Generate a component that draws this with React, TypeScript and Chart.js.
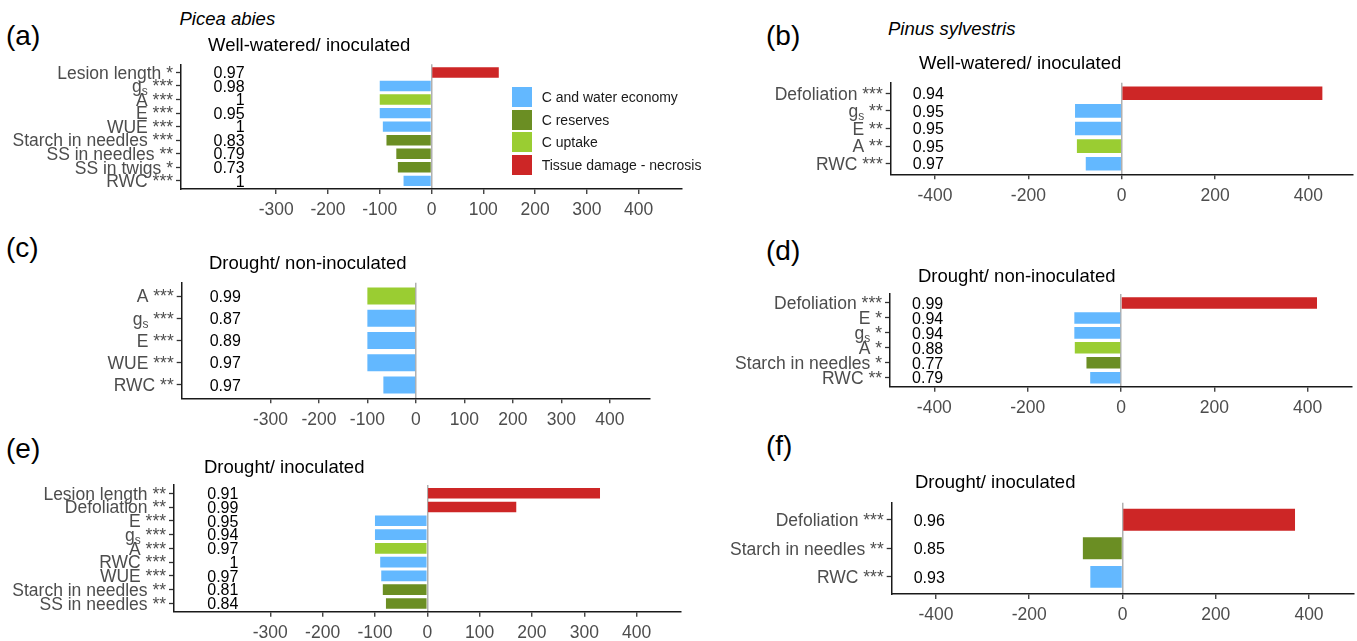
import React, { useEffect, useRef } from 'react';
import { Chart, registerables } from 'chart.js';

Chart.register(...registerables);

const FONT = '"Liberation Sans", Arial, Helvetica, sans-serif';

const COLORS: Record<string, string> = {
  water: '#63B8FF',
  reserves: '#6B8E23',
  uptake: '#9ACD32',
  damage: '#CD2626',
};

const legendKeys = ['water', 'reserves', 'uptake', 'damage'];
const legendNames = ['C and water economy', 'C reserves', 'C uptake', 'Tissue damage - necrosis'];

const leftTicks = [-300, -200, -100, 0, 100, 200, 300, 400];
const rightTicks = [-400, -200, 0, 200, 400];

// (a) Picea abies – Well-watered/ inoculated
const aLabels = ['Lesion length *', 'g_s ***', 'A ***', 'E ***', 'WUE ***', 'Starch in needles ***', 'SS in needles **', 'SS in twigs *', 'RWC ***'];
const aValues = [130, -100, -100, -100, -94, -87, -68, -65, -54];
const aR2 = ['0.97', '0.98', '1', '0.95', '1', '0.83', '0.79', '0.73', '1'];
const aGroups = ['damage', 'water', 'uptake', 'water', 'water', 'reserves', 'reserves', 'reserves', 'water'];

// (b) Pinus sylvestris – Well-watered/ inoculated
const bLabels = ['Defoliation ***', 'g_s **', 'E **', 'A **', 'RWC ***'];
const bValues = [430, -100, -100, -96, -77];
const bR2 = ['0.94', '0.95', '0.95', '0.95', '0.97'];
const bGroups = ['damage', 'water', 'water', 'uptake', 'water'];

// (c) Picea abies – Drought/ non-inoculated
const cLabels = ['A ***', 'g_s ***', 'E ***', 'WUE ***', 'RWC **'];
const cValues = [-100, -100, -100, -100, -67];
const cR2 = ['0.99', '0.87', '0.89', '0.97', '0.97'];
const cGroups = ['uptake', 'water', 'water', 'water', 'water'];

// (d) Pinus sylvestris – Drought/ non-inoculated
const dLabels = ['Defoliation ***', 'E *', 'g_s *', 'A *', 'Starch in needles *', 'RWC **'];
const dValues = [420, -100, -100, -99, -74, -66];
const dR2 = ['0.99', '0.94', '0.94', '0.88', '0.77', '0.79'];
const dGroups = ['damage', 'water', 'water', 'uptake', 'reserves', 'water'];

// (e) Picea abies – Drought/ inoculated
const eLabels = ['Lesion length **', 'Defoliation **', 'E ***', 'g_s ***', 'A ***', 'RWC ***', 'WUE ***', 'Starch in needles **', 'SS in needles **'];
const eValues = [330, 170, -100, -100, -100, -90, -88, -85, -79];
const eR2 = ['0.91', '0.99', '0.95', '0.94', '0.97', '1', '0.97', '0.81', '0.84'];
const eGroups = ['damage', 'damage', 'water', 'water', 'uptake', 'water', 'water', 'reserves', 'reserves'];

// (f) Pinus sylvestris – Drought/ inoculated
const fLabels = ['Defoliation ***', 'Starch in needles **', 'RWC ***'];
const fValues = [370, -85, -69];
const fR2 = ['0.96', '0.85', '0.93'];
const fGroups = ['damage', 'reserves', 'water'];

type Rect = { left: number; top: number; right: number; bottom: number };
type PanelCfg = {
  labels: string[];
  values: number[];
  r2: string[];
  groups: string[];
  ticks: number[];
  xMin: number;
  xMax: number;
  r2X: number;
  plot: Rect;
  canvasLeft: number;
};

const panels: PanelCfg[] = [
  { labels: aLabels, values: aValues, r2: aR2, groups: aGroups, ticks: leftTicks, xMin: -484, xMax: 484, r2X: -361, plot: { left: 181, top: 64.3, right: 682, bottom: 189 }, canvasLeft: 0 },
  { labels: bLabels, values: bValues, r2: bR2, groups: bGroups, ticks: rightTicks, xMin: -495, xMax: 495, r2X: -381, plot: { left: 890.7, top: 82.7, right: 1352.7, bottom: 174.3 }, canvasLeft: 700 },
  { labels: cLabels, values: cValues, r2: cR2, groups: cGroups, ticks: leftTicks, xMin: -483, xMax: 483, r2X: -361, plot: { left: 181.7, top: 282.7, right: 650, bottom: 398.3 }, canvasLeft: 0 },
  { labels: dLabels, values: dValues, r2: dR2, groups: dGroups, ticks: rightTicks, xMin: -495, xMax: 495, r2X: -381, plot: { left: 890, top: 294, right: 1352, bottom: 386.7 }, canvasLeft: 700 },
  { labels: eLabels, values: eValues, r2: eR2, groups: eGroups, ticks: leftTicks, xMin: -484, xMax: 484, r2X: -361, plot: { left: 174, top: 485, right: 680.6, bottom: 611.7 }, canvasLeft: 0 },
  { labels: fLabels, values: fValues, r2: fR2, groups: fGroups, ticks: rightTicks, xMin: -495, xMax: 495, r2X: -381, plot: { left: 891.7, top: 502.7, right: 1353.3, bottom: 594 }, canvasLeft: 700 },
];

const LABEL_SIZE = 17.5;
const SUB_SIZE = 12;
const R2_SIZE = 16;

function drawRowLabel(ctx: CanvasRenderingContext2D, text: string, right: number, baseline: number) {
  const main = `${LABEL_SIZE}px ${FONT}`;
  const small = `${SUB_SIZE}px ${FONT}`;
  ctx.fillStyle = '#4d4d4d';
  ctx.textBaseline = 'alphabetic';
  const m = text.match(/^(.*)_(\w)(.*)$/);
  if (!m) {
    ctx.font = main;
    ctx.textAlign = 'right';
    ctx.fillText(text, right, baseline);
    return;
  }
  ctx.textAlign = 'left';
  ctx.font = main;
  const w1 = ctx.measureText(m[1]).width;
  const w3 = ctx.measureText(m[3]).width;
  ctx.font = small;
  const w2 = ctx.measureText(m[2]).width;
  let x = right - w1 - w2 - w3;
  ctx.font = main;
  ctx.fillText(m[1], x, baseline);
  x += w1;
  ctx.font = small;
  ctx.fillText(m[2], x, baseline + 3);
  x += w2;
  ctx.font = main;
  ctx.fillText(m[3], x, baseline);
}

function Panel({ cfg }: { cfg: PanelCfg }) {
  const ref = useRef<HTMLCanvasElement>(null);
  const canvasTop = Math.floor(cfg.plot.top) - 12;
  const canvasBottom = Math.ceil(cfg.plot.bottom) + 34;
  const canvasLeft = cfg.canvasLeft;
  const canvasRight = Math.min(1357, Math.ceil(cfg.plot.right) + 3);
  const W = canvasRight - canvasLeft;
  const H = canvasBottom - canvasTop;
  const yMin = -0.6;
  const yMax = cfg.values.length - 0.4;

  useEffect(() => {
    if (!ref.current) return;
    const rowPlugin = {
      id: 'rowLabels',
      afterDraw(chart: any) {
        const ctx: CanvasRenderingContext2D = chart.ctx;
        const ys = chart.scales.y;
        const xs = chart.scales.x;
        ctx.save();
        cfg.labels.forEach((lab, i) => {
          const py = ys.getPixelForValue(i);
          drawRowLabel(ctx, lab, chart.chartArea.left - 8, py + LABEL_SIZE * 0.716 / 2);
          ctx.font = `${R2_SIZE}px ${FONT}`;
          ctx.fillStyle = '#000000';
          ctx.textAlign = 'right';
          ctx.textBaseline = 'alphabetic';
          ctx.fillText(cfg.r2[i], xs.getPixelForValue(cfg.r2X), py + R2_SIZE * 0.716 / 2);
        });
        ctx.restore();
      },
    };

    const chart = new Chart(ref.current, {
      type: 'bar',
      data: {
        datasets: [
          {
            data: cfg.values.map((v, i) => ({ x: v, y: i })) as any,
            backgroundColor: cfg.groups.map((g) => COLORS[g]),
            borderWidth: 0,
            barPercentage: 0.77,
            categoryPercentage: 1,
          },
        ],
      },
      options: {
        indexAxis: 'y',
        animation: false,
        responsive: false,
        maintainAspectRatio: false,
        devicePixelRatio: 1,
        layout: {
          padding: { left: 0, right: canvasRight - cfg.plot.right, top: cfg.plot.top - canvasTop, bottom: 0 },
        },
        plugins: {
          legend: { display: false },
          tooltip: { enabled: false },
          title: { display: false },
        },
        scales: {
          x: {
            type: 'linear',
            min: cfg.xMin,
            max: cfg.xMax,
            bounds: 'data',
            offset: false,
            afterBuildTicks: (s: any) => {
              s.ticks = cfg.ticks.map((v) => ({ value: v }));
              s.min = cfg.xMin;
              s.max = cfg.xMax;
            },
            afterFit: (s: any) => {
              s.height = canvasBottom - cfg.plot.bottom;
            },
            ticks: {
              autoSkip: false,
              maxRotation: 0,
              color: '#4d4d4d',
              font: { family: FONT, size: 17.5 },
              padding: 6,
              callback: (v: any) => String(v),
            },
            grid: {
              display: true,
              offset: false,
              drawOnChartArea: true,
              drawTicks: true,
              tickLength: 5,
              tickColor: '#333333',
              tickWidth: 1.3,
              lineWidth: 1.5,
              color: (ctx: any) => (ctx.tick && ctx.tick.value === 0 ? '#b0b0b0' : 'rgba(0,0,0,0)'),
            },
            border: { display: true, color: '#1a1a1a', width: 1.5 },
          },
          y: {
            type: 'linear',
            reverse: true,
            min: yMin,
            max: yMax,
            bounds: 'data',
            offset: false,
            afterBuildTicks: (s: any) => {
              s.ticks = cfg.labels.map((_, i) => ({ value: i }));
              s.min = yMin;
              s.max = yMax;
            },
            afterFit: (s: any) => {
              s.width = cfg.plot.left - canvasLeft;
            },
            ticks: { display: false },
            grid: {
              display: true,
              offset: false,
              drawOnChartArea: false,
              drawTicks: true,
              tickLength: 5,
              tickColor: '#333333',
              tickWidth: 1.3,
            },
            border: { display: true, color: '#1a1a1a', width: 1.5 },
          },
        },
      } as any,
      plugins: [rowPlugin],
    });
    return () => chart.destroy();
  }, []);

  return (
    <canvas
      ref={ref}
      width={W}
      height={H}
      style={{ position: 'absolute', left: canvasLeft, top: canvasTop, width: W, height: H }}
    />
  );
}

function Txt({ x, baseline, size, italic, children, color }: any) {
  return (
    <div
      style={{
        position: 'absolute',
        left: x,
        top: baseline - 0.8465 * size,
        fontSize: size,
        lineHeight: `${size}px`,
        fontStyle: italic ? 'italic' : 'normal',
        whiteSpace: 'nowrap',
        color: color || '#000',
        fontFamily: FONT,
      }}
    >
      {children}
    </div>
  );
}

export default function App() {
  useEffect(() => {
    document.body.style.margin = '0';
    document.body.style.background = '#ffffff';
  }, []);

  return (
    <div style={{ position: 'absolute', left: 0, top: 0, width: 1357, height: 641, background: '#fff', overflow: 'hidden', fontFamily: FONT }}>
      {panels.map((p, i) => (
        <Panel key={i} cfg={p} />
      ))}

      <Txt x={6} baseline={45.6} size={28}>(a)</Txt>
      <Txt x={766} baseline={46} size={28}>(b)</Txt>
      <Txt x={6} baseline={258} size={28}>(c)</Txt>
      <Txt x={766} baseline={261} size={28}>(d)</Txt>
      <Txt x={6} baseline={459} size={28}>(e)</Txt>
      <Txt x={766} baseline={456} size={28}>(f)</Txt>

      <Txt x={179.5} baseline={26} size={18.5} italic>Picea abies</Txt>
      <Txt x={888} baseline={35.5} size={18.5} italic>Pinus sylvestris</Txt>

      <Txt x={208} baseline={51.7} size={18.5}>Well-watered/ inoculated</Txt>
      <Txt x={919} baseline={69.3} size={18.5}>Well-watered/ inoculated</Txt>
      <Txt x={209} baseline={269.3} size={18.5}>Drought/ non-inoculated</Txt>
      <Txt x={918} baseline={282.3} size={18.5}>Drought/ non-inoculated</Txt>
      <Txt x={204} baseline={473.3} size={18.5}>Drought/ inoculated</Txt>
      <Txt x={915} baseline={489} size={18.5}>Drought/ inoculated</Txt>

      {legendKeys.map((k, i) => {
        const top = 86.7 + i * 22.8;
        return (
          <React.Fragment key={k}>
            <div style={{ position: 'absolute', left: 511.7, top, width: 20, height: 20, background: COLORS[k] }} />
            <Txt x={541.7} baseline={top + 10 + 14 * 0.716 / 2} size={14} color="#1a1a1a">
              {legendNames[i]}
            </Txt>
          </React.Fragment>
        );
      })}
    </div>
  );
}
